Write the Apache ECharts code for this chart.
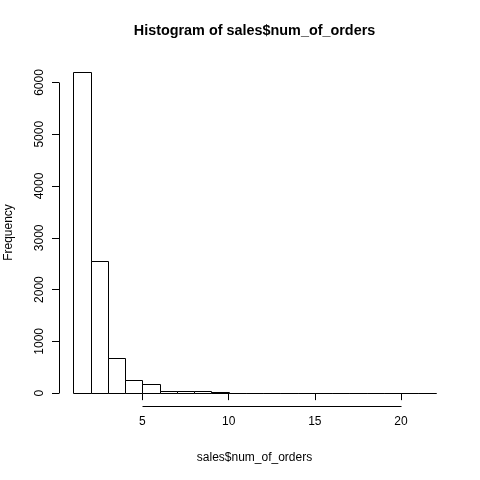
<!DOCTYPE html>
<html><head><meta charset="utf-8">
<script src="https://cdn.jsdelivr.net/npm/echarts@6/dist/echarts.min.js"></script>
<style>html,body{margin:0;padding:0;background:#fff}#c{width:480px;height:480px}</style>
</head><body><div id="c"></div>
<script>
// Histogram data (bin edges and frequencies)
const breaks = [1,2,3,4,5,6,7,8,9,10,11,12,13,14,15,16,17,18,19,20,21,22];
const counts = [6205,2560,680,250,178,42,38,40,20,5,4,2,2,1,1,0,1,0,0,0,1];
const xTicks = [5,10,15,20];
const yTicks = [0,1000,2000,3000,4000,5000,6000];
const titleText = 'Histogram of sales$num_of_orders';
const xName = 'sales$num_of_orders';
const yName = 'Frequency';

const font = "'Liberation Sans', Arial, sans-serif";
const x0 = breaks[0], x1 = breaks[breaks.length - 1];
const xpad = 0.04 * (x1 - x0);
const xmin = x0 - xpad, xmax = x1 + xpad;
const ymaxData = Math.max(...counts);
const ypad = 0.04 * ymaxData;
const ymin = -ypad, ymax = ymaxData + ypad;

const gridL = 59, gridR = 30, gridT = 59, gridB = 74;

const barData = counts.map((c, i) => [breaks[i], breaks[i + 1], c]);
const axisLineData = [
  [xTicks[0], ymin, xTicks[xTicks.length - 1], ymin],
  [xmin, yTicks[0], xmin, yTicks[yTicks.length - 1]]
];

const crisp = v => Math.round(v) + 0.5;

const chart = echarts.init(document.getElementById('c'), null, {renderer: 'canvas'});
chart.setOption({
  animation: false,
  backgroundColor: '#fff',
  graphic: [{
    type: 'text',
    x: gridL + (480 - gridL - gridR) / 2,
    y: 31,
    style: {text: titleText, font: "bold 14.4px " + font, fill: '#000',
            textAlign: 'center', textVerticalAlign: 'middle'}
  }],
  grid: {left: gridL, right: gridR, top: gridT, bottom: gridB, containLabel: false, outerBoundsMode: 'none'},
  xAxis: {
    type: 'value', min: xmin, max: xmax,
    axisLine: {show: false}, splitLine: {show: false},
    axisTick: {show: true, customValues: xTicks, length: 7, lineStyle: {color: '#000', width: 1}},
    axisLabel: {customValues: xTicks, color: '#000', fontSize: 12, fontFamily: font, margin: 10,
                formatter: v => String(v)},
    name: xName, nameLocation: 'middle', nameGap: 46,
    nameTextStyle: {color: '#000', fontSize: 12, fontFamily: font}
  },
  yAxis: {
    type: 'value', min: ymin, max: ymax,
    axisLine: {show: false}, splitLine: {show: false},
    axisTick: {show: true, customValues: yTicks, length: 7, lineStyle: {color: '#000', width: 1}},
    axisLabel: {customValues: yTicks, color: '#000', fontSize: 12, fontFamily: font, margin: 13, rotate: 90,
                formatter: v => String(v)},
    name: yName, nameLocation: 'middle', nameGap: 44,
    nameTextStyle: {color: '#000', fontSize: 12, fontFamily: font}
  },
  series: [
    {
      type: 'custom',
      data: barData,
      encode: {x: [0, 1], y: 2},
      clip: false,
      renderItem: function (params, api) {
        const p0 = api.coord([api.value(0), 0]);
        const p1 = api.coord([api.value(1), api.value(2)]);
        const xa = crisp(p0[0]), xb = crisp(p1[0]);
        const ya = crisp(p1[1]), yb = crisp(p0[1]);
        return {
          type: 'rect',
          shape: {x: xa, y: ya, width: xb - xa, height: yb - ya},
          style: {fill: '#fff', stroke: '#000', lineWidth: 1}
        };
      }
    },
    {
      type: 'custom',
      data: axisLineData,
      encode: {x: [0, 2], y: [1, 3]},
      clip: false, silent: true,
      renderItem: function (params, api) {
        const a = api.coord([api.value(0), api.value(1)]);
        const b = api.coord([api.value(2), api.value(3)]);
        return {
          type: 'line',
          shape: {x1: crisp(a[0]), y1: crisp(a[1]), x2: crisp(b[0]), y2: crisp(b[1])},
          style: {stroke: '#000', lineWidth: 1}
        };
      }
    }
  ]
});
</script>
</body></html>
